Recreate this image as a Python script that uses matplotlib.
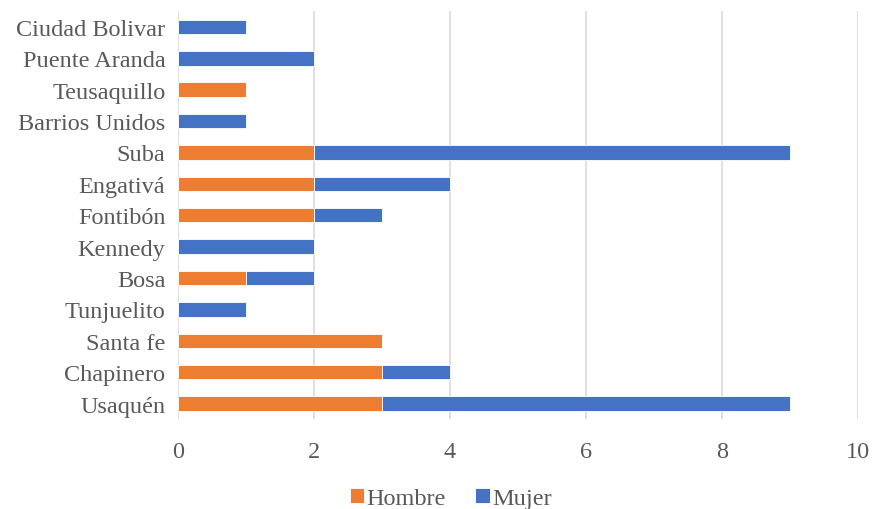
import matplotlib.pyplot as plt
import numpy as np

localidades = ["Usaquén", "Chapinero", "Santa fe", "Tunjuelito", "Bosa", "Kennedy",
               "Fontibón", "Engativá", "Suba", "Barrios Unidos", "Teusaquillo",
               "Puente Aranda", "Ciudad Bolivar"]
hombre = [3, 3, 3, 0, 1, 0, 2, 2, 2, 0, 1, 0, 0]
mujer = [6, 1, 0, 1, 1, 2, 1, 2, 7, 1, 0, 2, 1]
xticks = [0, 2, 4, 6, 8, 10]

plt.rcParams["font.family"] = ["Liberation Serif", "DejaVu Serif"]
texto = "#595959"

fig = plt.figure(figsize=(8.72, 5.10), dpi=100)
ax = fig.add_axes([0.204, 0.176, 0.78, 0.80])

y = np.arange(len(localidades))
ax.barh(y, hombre, height=0.46, color="#ED7D31", edgecolor="white", linewidth=0.6,
        label="Hombre", zorder=3)
ax.barh(y, mujer, left=hombre, height=0.46, color="#4472C4", edgecolor="white",
        linewidth=0.6, label="Mujer", zorder=3)

ax.set_xlim(0, 10)
ax.set_ylim(-0.5, len(localidades) - 0.5)
ax.set_xticks(xticks)
ax.set_yticks(y)
ax.set_yticklabels(localidades)
ax.tick_params(axis="both", length=0, labelsize=17.5, colors=texto)
ax.tick_params(axis="x", pad=16)
ax.tick_params(axis="y", pad=9)
ax.grid(axis="x", color="#D9D9D9", linewidth=1.2, zorder=0)
for s in ax.spines.values():
    s.set_visible(False)

fig.legend(loc="lower center", bbox_to_anchor=(0.517, -0.034), ncol=2, frameon=False,
           fontsize=17.5, labelcolor=texto, handlelength=0.6, handleheight=0.6,
           handletextpad=0.1, columnspacing=1.2, borderpad=0.2)

fig.savefig("out.png")
